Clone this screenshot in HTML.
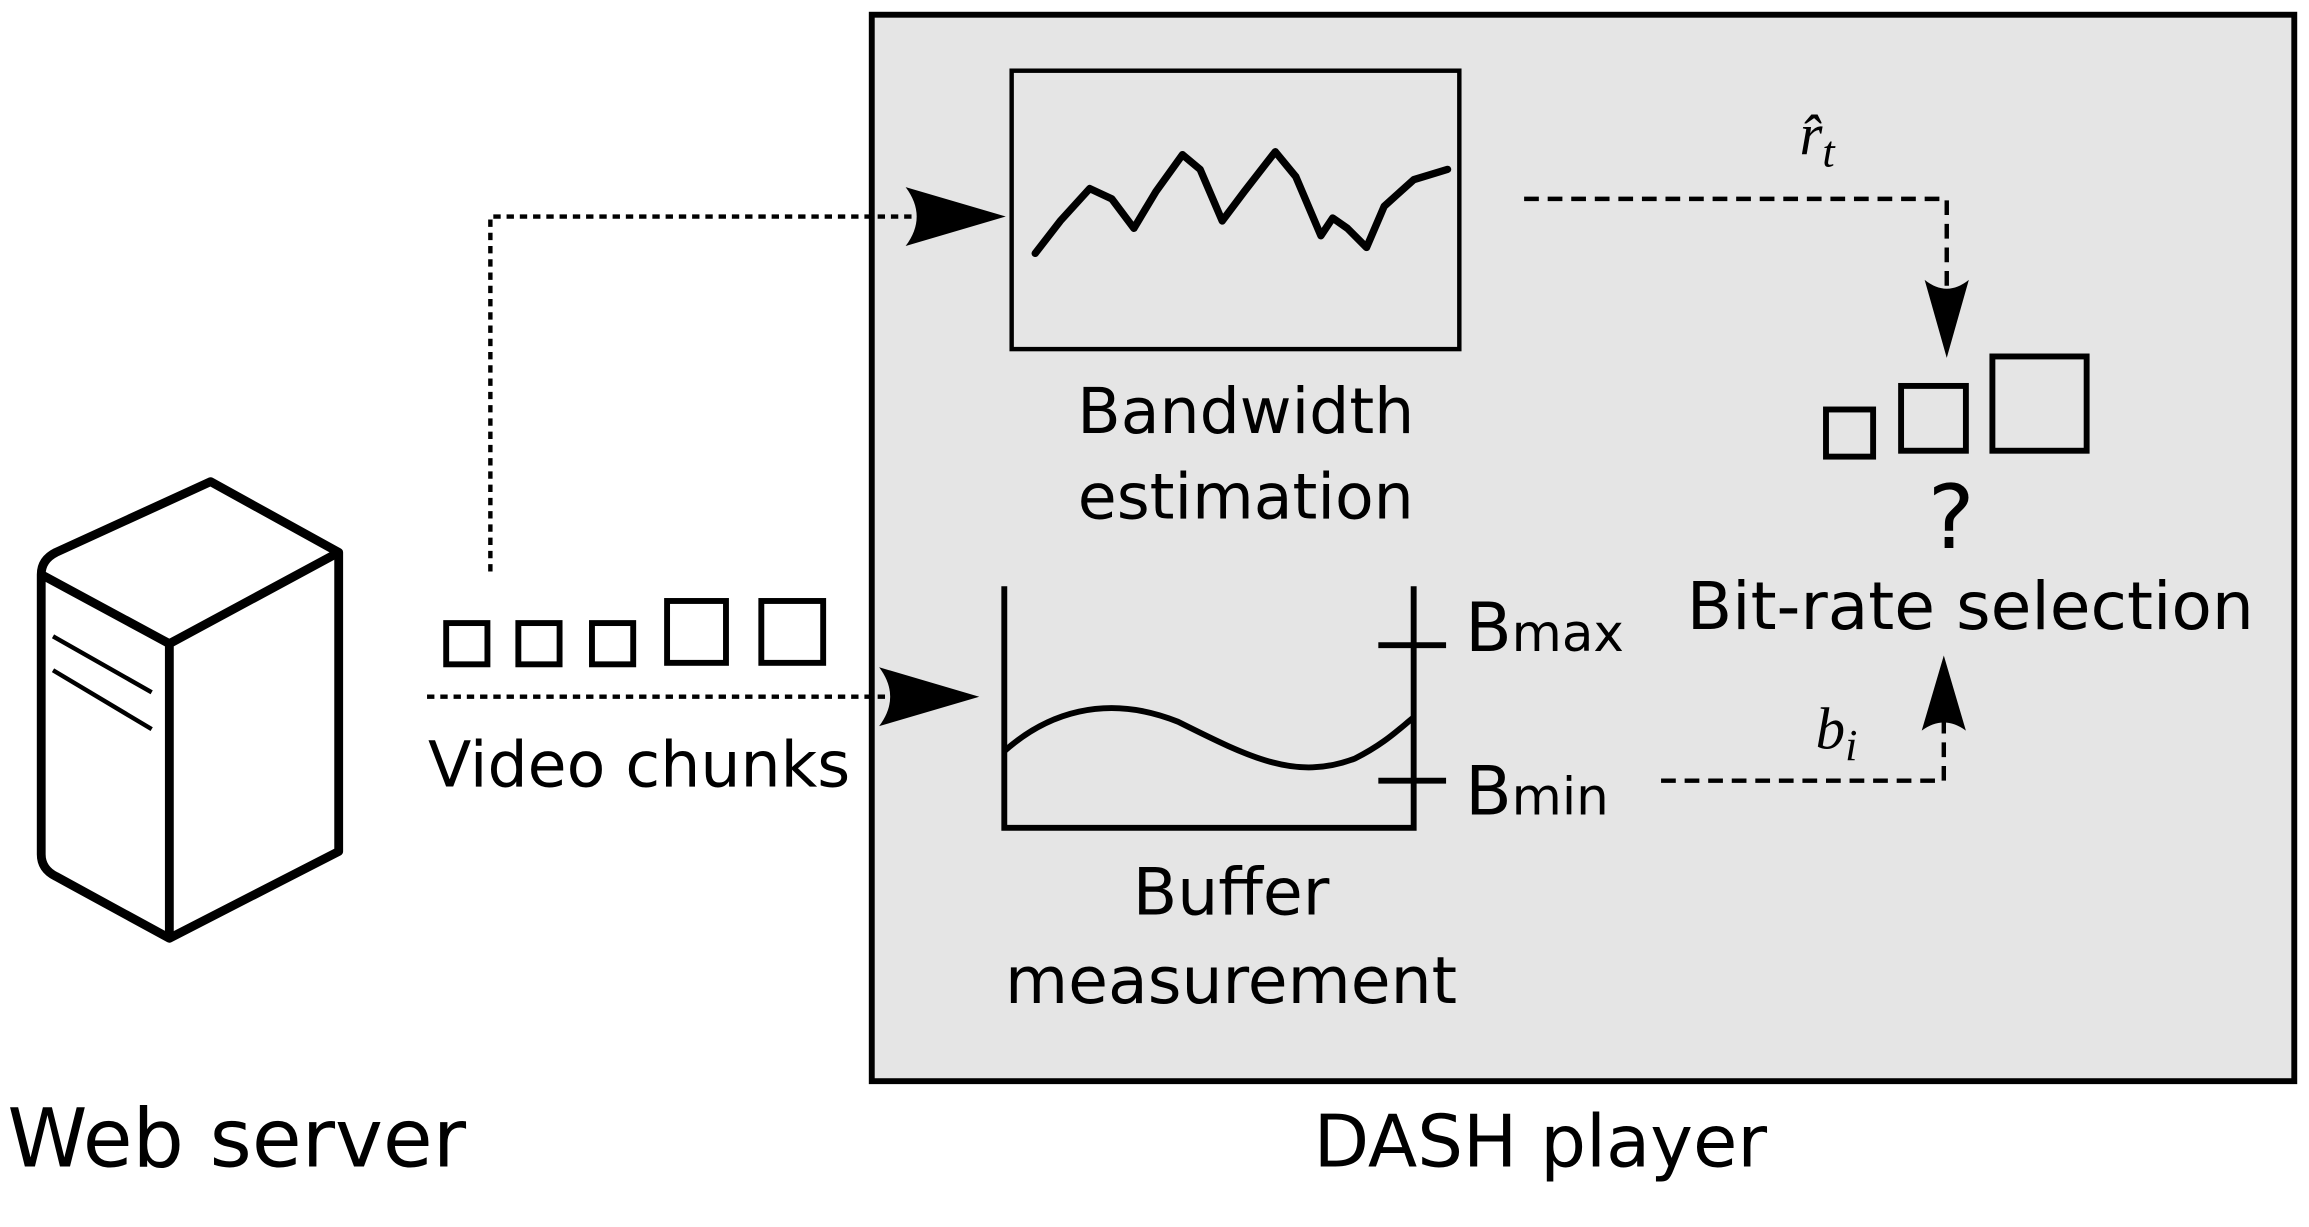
<!DOCTYPE html>
<html><head><style>html,body{margin:0;padding:0;background:#fff}svg{display:block}</style></head><body>
<svg width="2309" height="1227" viewBox="0 0 1568 833" preserveAspectRatio="none" xmlns="http://www.w3.org/2000/svg" font-family="'DejaVu Sans','Liberation Sans',sans-serif">
<rect x="592" y="10" width="966" height="724" fill="#e5e5e5" stroke="#000" stroke-width="4"/>
<rect x="687" y="48" width="304" height="189" fill="none" stroke="#000" stroke-width="3"/>
<polyline fill="none" stroke="#000" stroke-width="5" stroke-linejoin="round" stroke-linecap="round" points="703,172 720,150 740,128 755,135 770,155 785,130 803,105 815,115 830,150 845,130 866,103 880,120 897,160 905,148 915,155 928,168 940,140 960,122 983,115"/>
<text x="846" y="294" font-size="43" text-anchor="middle">Bandwidth</text>
<text x="846" y="352" font-size="43" text-anchor="middle">estimation</text>
<polyline fill="none" stroke="#000" stroke-width="4" points="682,398 682,562 960,562 960,398"/>
<line x1="936" y1="438" x2="982" y2="438" stroke="#000" stroke-width="4"/>
<line x1="936" y1="530" x2="982" y2="530" stroke="#000" stroke-width="4"/>
<path d="M682,510 C710,485 750,470 800,490 C850,515 880,530 920,515 C940,505 950,495 960,487" fill="none" stroke="#000" stroke-width="4"/>
<text x="995" y="442" font-size="46">B<tspan font-size="35">max</tspan></text>
<text x="995" y="553" font-size="46">B<tspan font-size="35">min</tspan></text>
<text x="836" y="621" font-size="44" text-anchor="middle">Buffer</text>
<text x="836" y="681" font-size="44" text-anchor="middle">measurement</text>
<g fill="none" stroke="#000" stroke-width="6" stroke-linejoin="round">
<path d="M28,390 Q28,380 38,375 L143,327 L230,375 L230,578 L115,637 L38,595 Q28,590 28,580 Z" fill="#fff"/>
<path d="M28,390 L115,437 L230,375 M115,437 L115,637"/>
<path d="M36,432 L103,470 M36,455 L103,495" stroke-width="3"/>
</g>
<text x="5" y="792" font-size="55">Web server</text>
<text x="1046" y="792" font-size="49" text-anchor="middle">DASH player</text>
<g fill="none" stroke="#000" stroke-width="4">
<rect x="303" y="423" width="28" height="28"/><rect x="352" y="423" width="28" height="28"/><rect x="402" y="423" width="28" height="28"/>
<rect x="453" y="408" width="40" height="42"/><rect x="517" y="408" width="42" height="42"/>
<rect x="1240" y="278" width="32" height="32"/><rect x="1291" y="262" width="44" height="44"/><rect x="1353" y="242" width="64" height="64"/>
</g>
<text x="434" y="534" font-size="43" text-anchor="middle">Video chunks</text>
<text x="1325" y="372" font-size="60" text-anchor="middle">?</text>
<text x="1338" y="427" font-size="45" text-anchor="middle">Bit-rate selection</text>
<g fill="none" stroke="#000" stroke-width="3" stroke-dasharray="5,4">
<polyline points="333,388 333,147 630,147"/>
<line x1="290" y1="473" x2="610" y2="473"/>
</g>
<g fill="none" stroke="#000" stroke-width="3" stroke-dasharray="10,6">
<polyline points="1035,135 1322,135 1322,200"/>
<polyline points="1128,530 1320,530 1320,490"/>
</g>
<g fill="#000">
<path d="M683,147 L615,127 Q630,147 615,167 Z"/>
<path d="M665,473 L597,453 Q612,473 597,493 Z"/>
<path d="M1322,243 L1307,190 Q1322,202 1337,190 Z"/>
<path d="M1320,445 L1305,496 Q1320,485 1335,496 Z"/>
</g>
<text x="1222" y="105" font-size="40" font-style="italic" font-family="'Liberation Serif',serif">r̂<tspan font-size="30" dy="8">t</tspan></text>
<text x="1233" y="508" font-size="40" font-style="italic" font-family="'Liberation Serif',serif">b<tspan font-size="30" dy="8">i</tspan></text>
</svg>
</body></html>
